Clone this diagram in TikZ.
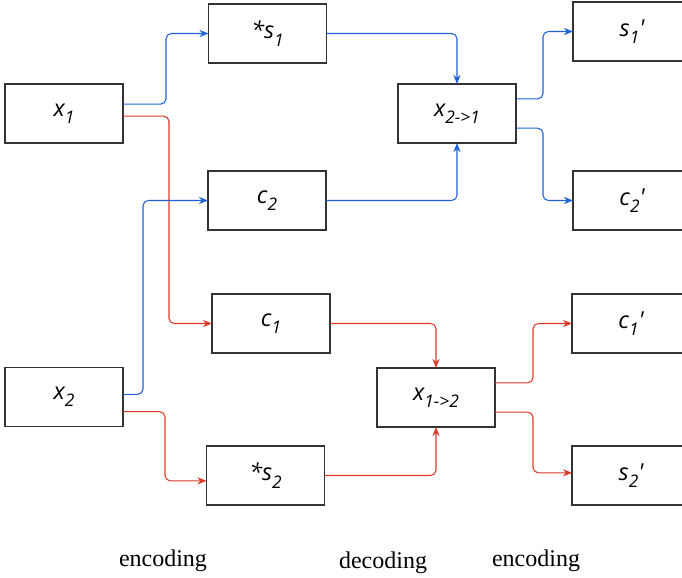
\documentclass[tikz,border=0pt]{standalone}
\usepackage{fontspec}
\setmainfont{Liberation Serif}
\setsansfont{Open Sans}
\usepackage{tikz}
\usepackage{xcolor}
\usetikzlibrary{arrows.meta,positioning,calc}
\definecolor{flowblue}{HTML}{1F63D6}
\definecolor{flowred}{HTML}{DC3B2A}
\definecolor{boxgray}{HTML}{333333}
\newcommand{\idx}[1]{\raisebox{-5.5pt}{\fontsize{13}{14}\selectfont #1}}
\tikzset{
  boxNode/.style={draw=boxgray, line width=0.8pt, fill=white, minimum width=88.5pt, minimum height=44.25pt, inner sep=0pt, outer sep=0pt, font=\sffamily\itshape\fontsize{17.5}{20}\selectfont},
  blueFlow/.style={-{Stealth[length=2.4mm,width=1.9mm]}, line width=0.8pt, draw=flowblue, rounded corners=4pt},
  redFlow/.style={-{Stealth[length=2.4mm,width=1.9mm]}, line width=0.8pt, draw=flowred, rounded corners=4pt},
  stageLabel/.style={font=\fontsize{18}{21}\selectfont}
}

\begin{document}
\begin{tikzpicture}[x=0.75pt,y=-0.75pt]
  \clip (0,0) rectangle (682,578);
  \node[boxNode] (x1) at (64,113.5) {x\idx{1}};
  \node[boxNode] (x2) at (64,397) {x\idx{2}};
  \node[boxNode] (s1star) at (267.5,33.5) {*s\idx{1}};
  \node[boxNode] (c2) at (267,200.5) {c\idx{2}};
  \node[boxNode] (c1) at (271,323.5) {c\idx{1}};
  \node[boxNode] (s2star) at (265.5,475.5) {*s\idx{2}};
  \node[boxNode] (x21) at (457,113.5) {x\idx{2->1}};
  \node[boxNode] (x12) at (436,397.5) {x\idx{1->2}};
  \node[boxNode] (s1p) at (632,31.5) {s\idx{1}\textquotesingle};
  \node[boxNode] (c2p) at (632,200.5) {c\idx{2}\textquotesingle};
  \node[boxNode] (c1p) at (631,323.5) {c\idx{1}\textquotesingle};
  \node[boxNode] (s2p) at (631,475.5) {s\idx{2}\textquotesingle};
  \draw[blueFlow] ([yshift=7pt]x1.east) -- ++(43,0) |- (s1star.west);
  \draw[redFlow] ([yshift=-2pt]x1.east) -- ++(46,0) |- (c1.west);
  \draw[blueFlow] ([yshift=2pt]x2.east) -- ++(20,0) |- (c2.west);
  \draw[redFlow] ([yshift=-11pt]x2.east) -- ++(42,0) |- ([yshift=-4pt]s2star.west);
  \draw[blueFlow] (s1star.east) -| (x21.north);
  \draw[blueFlow] (c2.east) -| (x21.south);
  \draw[redFlow] (c1.east) -| (x12.north);
  \draw[redFlow] (s2star.east) -| (x12.south);
  \draw[blueFlow] ([yshift=11pt]x21.east) -- ++(27,0) |- (s1p.west);
  \draw[blueFlow] ([yshift=-11pt]x21.east) -- ++(27,0) |- (c2p.west);
  \draw[redFlow] ([yshift=11pt]x12.east) -- ++(38,0) |- (c1p.west);
  \draw[redFlow] ([yshift=-11pt]x12.east) -- ++(38,0) |- ([yshift=2pt]s2p.west);
  \node[stageLabel] (enc1) at (163,561) {encoding};
  \node[stageLabel] (dec) at (383,563) {decoding};
  \node[stageLabel] (enc2) at (536,561) {encoding};
\end{tikzpicture}
\end{document}
